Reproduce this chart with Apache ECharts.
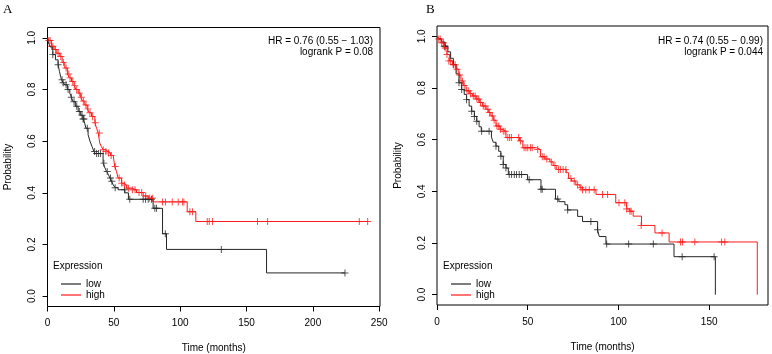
<!DOCTYPE html>
<html>
<head>
<meta charset="utf-8">
<script src="https://cdn.jsdelivr.net/npm/echarts@6/dist/echarts.min.js"></script>
<style>
html, body { margin: 0; padding: 0; background: #fff; }
#km { width: 772px; height: 354px; }
</style>
</head>
<body>
<div id="km"></div>
<script>
// tick labels
var xTicksA = [0, 50, 100, 150, 200, 250];
var xTicksB = [0, 50, 100, 150];
var yTicks = [0, 0.2, 0.4, 0.6, 0.8, 1.0];
var groups = ['low', 'high'];

var statsA = ['HR = 0.76 (0.55 \u2212 1.03)', 'logrank P = 0.08'];
var statsB = ['HR = 0.74 (0.55 \u2212 0.99)', 'logrank P = 0.044'];

// panel A : [time, survival] step points
var lowStepsA = [[0,1],[0.5,0.986],[2,0.965],[4,0.935],[6,0.915],[8,0.896],[9,0.87],[10.5,0.838],[12,0.826],[13,0.818],
  [15,0.8],[16.8,0.786],[18,0.77],[19.3,0.753],[21,0.735],[23.1,0.715],[25,0.7],[26.8,0.686],[28,0.67],[29,0.65],
  [30.6,0.625],[32,0.6],[33.5,0.58],[35,0.56],[36,0.552],[41.9,0.515],[43,0.5],[44.5,0.483],[46,0.47],[47,0.457],
  [48.3,0.445],[49.5,0.431],[51,0.42],[53.2,0.412],[58.3,0.4],[61,0.375],[79.6,0.34],[86.7,0.242],[89.7,0.181],
  [165.1,0.09],[224.2,0.09]];
var highStepsA = [[0,1],[1,0.99],[3,0.967],[5,0.955],[7,0.94],[9.3,0.928],[11,0.905],[13,0.883],[15,0.86],[16.5,0.845],
  [18.1,0.831],[20,0.815],[21.5,0.8],[23.1,0.786],[25,0.77],[26.5,0.755],[28.1,0.74],[30,0.725],[31.5,0.71],[33.2,0.695],
  [35.7,0.671],[37,0.65],[38.2,0.632],[39.4,0.593],[40.5,0.58],[41.9,0.567],[43.5,0.56],[45.7,0.554],[47.5,0.545],
  [49.5,0.541],[50.7,0.502],[52,0.483],[53.2,0.457],[55.8,0.437],[57.5,0.43],[59.6,0.418],[63.3,0.412],[67.1,0.401],
  [72.1,0.388],[75.9,0.379],[79.6,0.365],[105.3,0.327],[111.8,0.289],[241.7,0.289]];
var lowCensorA = [[4,0.935],[8,0.896],[11,0.838],[11.8,0.826],[14,0.818],[15.5,0.8],[18,0.77],[20,0.753],[22,0.735],
  [24,0.715],[26,0.7],[26.8,0.686],[27.5,0.686],[30,0.65],[35.5,0.56],[37,0.552],[38.5,0.552],[40,0.552],[42.5,0.515],
  [45,0.483],[47.5,0.457],[48.5,0.445],[51,0.42],[58,0.412],[62,0.375],[72.1,0.375],[73.9,0.375],[75.9,0.375],
  [78.4,0.375],[80.9,0.34],[82.2,0.34],[88.8,0.242],[131,0.181],[224.2,0.09]];
var highCensorA = [[1,0.99],[2,0.99],[3,0.967],[4,0.967],[6,0.955],[8,0.94],[10,0.928],[12,0.905],[14,0.883],[16,0.86],
  [17,0.845],[19,0.831],[20.5,0.815],[22,0.8],[24,0.786],[25.5,0.77],[27,0.755],[29,0.74],[30.5,0.725],[32,0.71],
  [34,0.695],[36,0.671],[39,0.632],[42,0.567],[44,0.56],[46,0.554],[48,0.545],[51,0.502],[54,0.457],[56,0.437],
  [58,0.43],[61,0.418],[64,0.412],[66,0.412],[69,0.401],[71,0.401],[74,0.388],[77,0.379],[79.2,0.379],[86.7,0.365],
  [89,0.365],[94,0.365],[98.5,0.365],[101.8,0.365],[102.8,0.365],[107.3,0.327],[109.3,0.327],[120.4,0.289],
  [121.9,0.289],[124.4,0.289],[158.3,0.289],[165.9,0.289],[235,0.289],[241.3,0.289]];

// panel B
var lowStepsB = [[0,1],[1,0.99],[2.5,0.978],[4.4,0.962],[6,0.94],[7.5,0.915],[9,0.891],[10.5,0.855],[12.1,0.82],
  [13.6,0.794],[15,0.775],[16.3,0.755],[17.7,0.73],[19.1,0.71],[20.6,0.69],[21.9,0.671],[23.2,0.65],[24.4,0.633],
  [30,0.61],[31,0.59],[32.5,0.575],[34,0.555],[35.2,0.536],[36.5,0.504],[38,0.49],[39.3,0.465],[49.9,0.445],
  [57.3,0.408],[65.3,0.37],[67.2,0.36],[70.5,0.348],[72,0.328],[77.5,0.303],[80.2,0.283],[88.5,0.251],[89.4,0.225],
  [93.1,0.196],[130.6,0.147],[153.4,0]];
var highStepsB = [[0,1],[1,0.99],[2.6,0.975],[4,0.955],[5.5,0.93],[6.8,0.905],[8.5,0.89],[10.5,0.873],[12,0.85],
  [13.2,0.827],[14.5,0.81],[16,0.789],[17.8,0.778],[19.7,0.769],[21.5,0.757],[23.3,0.744],[25,0.73],[27,0.718],
  [28.3,0.705],[29.7,0.692],[31,0.675],[32.5,0.653],[34.7,0.64],[36.2,0.633],[38,0.608],[45.5,0.595],[47.3,0.569],
  [54.7,0.562],[57,0.534],[59.5,0.525],[62.2,0.514],[64,0.5],[65.7,0.485],[71.2,0.472],[72.5,0.45],[74.2,0.44],
  [76.5,0.425],[78.8,0.414],[80.2,0.406],[87.6,0.388],[98.5,0.356],[104.5,0.332],[106.3,0.323],[108.1,0.304],
  [112.7,0.268],[120.1,0.239],[127.9,0.204],[176.5,0.204],[176.5,0]];
var lowCensorB = [[4,0.962],[4.4,0.962],[9,0.891],[12.1,0.82],[13.6,0.794],[16.3,0.755],[19.1,0.71],[20.6,0.69],
  [21.9,0.671],[24.6,0.633],[28.7,0.633],[32.5,0.575],[35.2,0.536],[36.5,0.504],[38,0.49],[39.8,0.465],[41.1,0.465],
  [42.6,0.465],[43.8,0.465],[45.3,0.465],[46.6,0.465],[50.8,0.445],[57.3,0.408],[58,0.408],[66.5,0.37],[72,0.328],
  [84.8,0.283],[88.5,0.251],[93.5,0.196],[105.6,0.196],[119.2,0.196],[135.1,0.147],[152.7,0.147]];
var highCensorB = [[1,0.99],[1.8,0.99],[2.6,0.975],[3.5,0.975],[4.5,0.955],[5.5,0.93],[6.5,0.905],[7.5,0.905],
  [9,0.89],[10,0.89],[11,0.873],[12.5,0.85],[14,0.827],[15,0.81],[16.5,0.789],[17.5,0.789],[18.5,0.778],[20,0.769],
  [21,0.769],[22,0.757],[23,0.757],[24,0.744],[25.5,0.73],[26.5,0.73],[28,0.718],[29,0.705],[30.5,0.692],[31.5,0.675],
  [33,0.653],[34,0.653],[35,0.64],[36.5,0.633],[37.5,0.633],[39,0.608],[40,0.608],[41,0.608],[45,0.608],[46,0.595],
  [48,0.569],[49,0.569],[50,0.569],[51.5,0.569],[52.5,0.569],[55.5,0.562],[58,0.534],[59,0.534],[60.5,0.525],
  [63,0.514],[65,0.5],[67,0.485],[68,0.485],[69.5,0.485],[71,0.485],[73.8,0.45],[75.6,0.44],[77.5,0.425],[79.3,0.414],
  [80.2,0.406],[82,0.406],[83.9,0.406],[86.6,0.406],[91.2,0.388],[94,0.388],[100.3,0.356],[103.5,0.356],[104.5,0.332],
  [106.3,0.323],[107,0.323],[112.5,0.268],[124,0.239],[134.2,0.204],[135.3,0.204],[142.1,0.204],[156.8,0.204],
  [158.6,0.204]];

var txt = { fontFamily: 'Liberation Sans, Arial, sans-serif', fontSize: 10, color: '#000' };
var font10 = '10px Liberation Sans, Arial, sans-serif';
var plus = 'path://M4.3,0H5.7V10H4.3ZM0,4.3H10V5.7H0Z';
var colors = { low: '#262626', high: '#ff1a1a' };

function xAxisOf(idx, maxT, ticks) {
  return {
    type: 'value', gridIndex: idx, min: 0, max: maxT,
    name: 'Time (months)', nameLocation: 'middle', nameGap: 37, nameTextStyle: txt,
    axisLine: { show: false, onZero: false },
    axisTick: { show: true, length: 5, lineStyle: { color: '#000' }, customValues: ticks },
    axisLabel: { margin: 12, fontFamily: txt.fontFamily, fontSize: 10, color: '#000', customValues: ticks },
    splitLine: { show: false }
  };
}
function yAxisOf(idx) {
  return {
    type: 'value', gridIndex: idx, min: -0.04, max: 1.04,
    name: 'Probability', nameLocation: 'middle', nameGap: 34, nameRotate: 90, nameTextStyle: txt,
    axisLine: { show: false, onZero: false },
    axisTick: { show: true, length: 5, lineStyle: { color: '#000' }, customValues: yTicks },
    axisLabel: { rotate: 90, margin: 10, fontFamily: txt.fontFamily, fontSize: 10, color: '#000',
      customValues: yTicks, formatter: function (v) { return v.toFixed(1); } },
    splitLine: { show: false }
  };
}
function stepSeries(name, idx, data) {
  return { name: name, type: 'line', xAxisIndex: idx, yAxisIndex: idx, step: 'end', data: data,
    showSymbol: false, color: colors[name], lineStyle: { width: 1, color: colors[name] }, silent: true };
}
function censorSeries(name, idx, data) {
  return { name: name, type: 'scatter', xAxisIndex: idx, yAxisIndex: idx, data: data,
    symbol: plus, symbolSize: 7, itemStyle: { color: colors[name] }, silent: true };
}
function legendOf(left, top) {
  return { data: groups, left: left, top: top, orient: 'vertical', icon: 'rect',
    itemWidth: 20, itemHeight: 1.2, itemGap: 1, selectedMode: false, textStyle: txt };
}
function statText(line, right, top) {
  return { type: 'text', right: right, top: top, style: { text: line, font: font10, fill: '#000' } };
}

var chart = echarts.init(document.getElementById('km'));
chart.setOption({
  animation: false,
  backgroundColor: '#fff',
  grid: [
    { left: 47.5, top: 27.5, width: 332.5, height: 279, show: true, borderColor: '#000', borderWidth: 1,
      outerBoundsMode: 'none', containLabel: false },
    { left: 437, top: 26, width: 331, height: 279, show: true, borderColor: '#000', borderWidth: 1,
      outerBoundsMode: 'none', containLabel: false }
  ],
  xAxis: [xAxisOf(0, 250.6, xTicksA), xAxisOf(1, 182.4, xTicksB)],
  yAxis: [yAxisOf(0), yAxisOf(1)],
  legend: [legendOf(56, 274), legendOf(446, 274)],
  graphic: [
    { type: 'text', left: 3, top: 3, style: { text: 'A', font: '13px Liberation Serif, serif', fill: '#000' } },
    { type: 'text', left: 426, top: 3, style: { text: 'B', font: '13px Liberation Serif, serif', fill: '#000' } },
    statText(statsA[0], 772 - 373, 36),
    statText(statsA[1], 772 - 373, 47),
    statText(statsB[0], 772 - 763, 36),
    statText(statsB[1], 772 - 763, 47),
    { type: 'text', left: 53, top: 261, style: { text: 'Expression', font: font10, fill: '#000' } },
    { type: 'text', left: 443, top: 261, style: { text: 'Expression', font: font10, fill: '#000' } }
  ],
  series: [
    stepSeries('low', 0, lowStepsA),
    censorSeries('low', 0, lowCensorA),
    stepSeries('high', 0, highStepsA),
    censorSeries('high', 0, highCensorA),
    stepSeries('low', 1, lowStepsB),
    censorSeries('low', 1, lowCensorB),
    stepSeries('high', 1, highStepsB),
    censorSeries('high', 1, highCensorB)
  ]
});
</script>
</body>
</html>
